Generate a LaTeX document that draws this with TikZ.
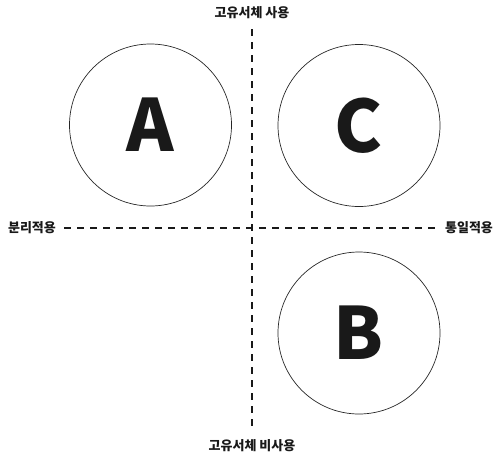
\documentclass[tikz,border=0pt]{standalone}
\usepackage{fontspec}
\newfontfamily\krfont{Noto Sans CJK KR}
\begin{document}
\begin{tikzpicture}[
  x=1pt, y=-1pt,
  every node/.style={inner sep=0pt, text=black!90,
    font=\krfont\bfseries\fontsize{13}{13}\selectfont},
  quad/.style={circle, draw=black!85, line width=0.7pt, minimum size=162pt,
    font=\krfont\bfseries\fontsize{72}{72}\selectfont},
  axis/.style={line width=1.3pt, black!90, dash pattern=on 7pt off 6pt}
]
\useasboundingbox (0,0) rectangle (496,456);
% axis labels
\node (use)    at (252,13)  {고유서체 사용};
\node (nouse)  at (252,446) {고유서체 비사용};
\node (split)  at (32,228)  {분리적용};
\node (unify)  at (469,228) {통일적용};
% axes
\coordinate (n) at (252,29);
\coordinate (s) at (252,426);
\coordinate (w) at (64,228);
\coordinate (e) at (438,228);
\draw[axis] (n) -- (s);
\draw[axis] (w) -- (e);
% quadrants
\node[quad] (A) at (150.5,125) {A};
\node[quad] (C) at (359,125.5) {C};
\node[quad] (B) at (359,333)   {B};
\end{tikzpicture}
\end{document}
